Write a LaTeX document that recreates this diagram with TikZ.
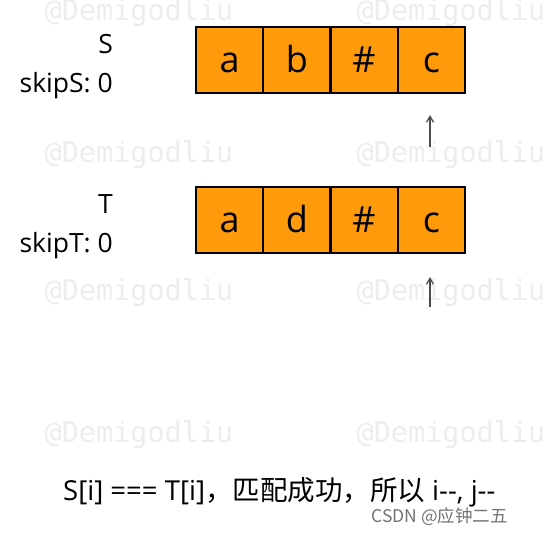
\documentclass[tikz,border=0pt]{standalone}
\usepackage{fontspec}
\setmainfont{Open Sans}
\newfontfamily\cjk{Noto Sans CJK SC}
\newfontfamily\wmfont{DejaVu Sans Mono}
\usetikzlibrary{arrows.meta}
\definecolor{boxorange}{HTML}{FF9A0A}
\tikzset{
    cell/.style ={
        shape=rectangle,
        draw=black,
        fill=boxorange,
        line width=2.4pt,
        minimum width=67.25pt,
        minimum height=66pt,
        inner sep=0pt,
        text height=26pt,
        text depth=2pt,
        font=\fontsize{36}{42}\selectfont
    },
    strlabel/.style ={
        anchor=base east,
        inner sep=0pt,
        font=\fontsize{26.5}{30}\selectfont
    },
    wmark/.style ={
        text=black!7,
        inner sep=0pt,
        font=\wmfont\fontsize{28.5}{32}\selectfont
    },
    ptr/.style ={
        draw=black!70,
        line width=1.3pt,
        -{Straight Barb[length=6pt,width=7pt]}
    }
}

\begin{document}
\begin{tikzpicture}[x=1pt,y=-1pt]
    \useasboundingbox (0,0) rectangle (556,535);
    % watermarks
    \node[wmark] (w1) at(139,13) {@Demigodliu};
    \node[wmark] (w2) at(451,13) {@Demigodliu};
    \node[wmark] (w3) at(139,155) {@Demigodliu};
    \node[wmark] (w4) at(451,155) {@Demigodliu};
    \node[wmark] (w5) at(139,293) {@Demigodliu};
    \node[wmark] (w6) at(451,293) {@Demigodliu};
    \node[wmark] (w7) at(139,435) {@Demigodliu};
    \node[wmark] (w8) at(451,435) {@Demigodliu};
    % string S
    \node[cell] (sa) at(229.6,60) {a};
    \node[cell] (sb) at(296.9,60) {b};
    \node[cell] (shash) at(364.1,60) {\#};
    \node[cell] (sc) at(431.4,60) {c};
    \node[strlabel] (sname) at(113,53) {S};
    \node[strlabel] (sskip) at(113,92) {skipS: 0};
    % string T
    \node[cell] (ta) at(229.6,220) {a};
    \node[cell] (td) at(296.9,220) {d};
    \node[cell] (thash) at(364.1,220) {\#};
    \node[cell] (tc) at(431.4,220) {c};
    \node[strlabel] (tname) at(113,213) {T};
    \node[strlabel] (tskip) at(113,252) {skipT: 0};
    % pointers
    \coordinate (ps) at(430,147);
    \coordinate (pstip) at(430,115);
    \coordinate (pt) at(430,307);
    \coordinate (pttip) at(430,277);
    \draw[ptr] (ps) -- (pstip);
    \draw[ptr] (pt) -- (pttip);
    % caption
    \node[anchor=base west,inner sep=0pt,font=\fontsize{27.5}{32}\selectfont] (msg) at(63,500)
        {S[i] === T[i]{\cjk ，匹配成功，所以} i{-}{-}, j{-}{-}};
    \node[anchor=base east,inner sep=0pt,text=black!55,font=\cjk\fontsize{17.5}{20}\selectfont] (csdn) at(508,522)
        {CSDN @应钟二五};
\end{tikzpicture}
\end{document}
